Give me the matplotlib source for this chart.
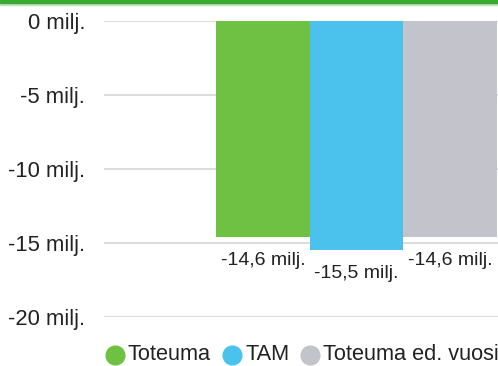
import matplotlib.pyplot as plt
from matplotlib.patches import Rectangle
from matplotlib.lines import Line2D

plt.rcParams['font.family'] = ['Liberation Sans', 'DejaVu Sans']

series = ['Toteuma', 'TAM', 'Toteuma ed. vuosi']
values = [-14.6, -15.5, -14.6]
value_labels = ['-14,6 milj.', '-15,5 milj.', '-14,6 milj.']
colors = ['#6fc144', '#4bc2ee', '#c3c3cb']
yticks = [0, -5, -10, -15, -20]
ytick_labels = ['0 milj.', '-5 milj.', '-10 milj.', '-15 milj.', '-20 milj.']

W, H = 498, 366
fig = plt.figure(figsize=(W/100, H/100), dpi=100)
# plot area runs past the right edge, the picture is cropped there
ax = fig.add_axes([104/W, 49/H, 505/W, 296/H])

xs = range(len(values))
ax.bar(xs, values, width=1.0, color=colors, zorder=2)
for x, v, lab in zip(xs, values, value_labels):
    ax.annotate(lab, (x, v), xytext=(0, -10.5), textcoords='offset points',
                ha='center', va='top', fontsize=14, color='#222222')

ax.set_xlim(-1.703, 3.703)
ax.set_ylim(-20, 0)
ax.set_yticks(yticks)
ax.set_yticklabels(ytick_labels, fontsize=15.8, color='#222222')
ax.tick_params(axis='y', length=0, pad=13.5)
ax.set_xticks([])
ax.grid(axis='y', color='#dcdcdc', linewidth=1.5, zorder=0)
ax.set_axisbelow(True)
for s in ax.spines.values():
    s.set_visible(False)

# green strip on top
fig.patches.append(Rectangle((0, 1 - 3/H), 1, 3/H, transform=fig.transFigure,
                             color='#3aaa35', zorder=5))
fig.patches.append(Rectangle((0, 1 - 5/H), 1, 2/H, transform=fig.transFigure,
                             color='#bfe3bb', zorder=4))

# legend drawn by hand: circle, label, next item
renderer = fig.canvas.get_renderer()
xpos = 115
ycen = 1 - 355/H
for c, name in zip(colors, series):
    fig.add_artist(Line2D([xpos/W], [ycen], marker='o', markersize=13.5,
                          markerfacecolor=c, markeredgecolor=c,
                          transform=fig.transFigure, linestyle=''))
    t = fig.text((xpos + 13)/W, ycen, name, fontsize=15.7, color='#222222',
                 va='center', ha='left')
    w = t.get_window_extent(renderer).width
    xpos = xpos + 13 + w + 21

fig.savefig('out.png', dpi=100)
